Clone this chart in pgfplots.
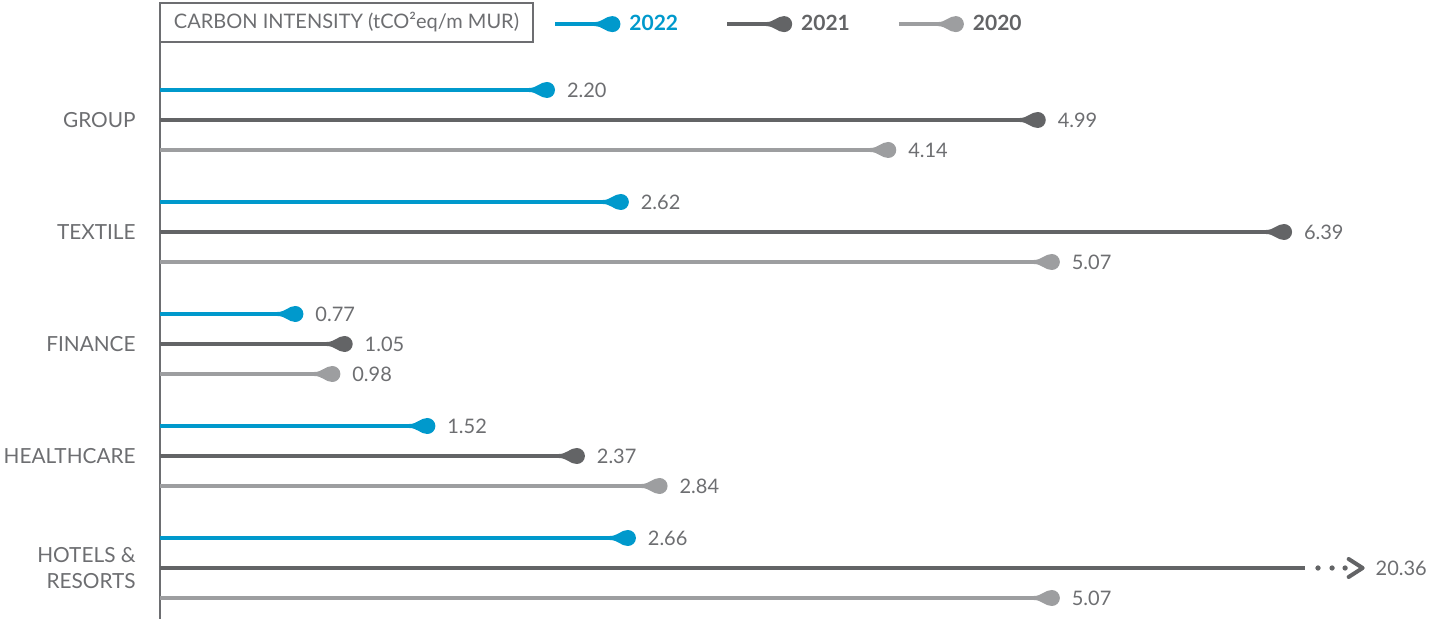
\documentclass[border=0pt]{standalone}
\usepackage{pgfplots}
\pgfplotsset{compat=1.18}
\usepackage{pgfplotstable}
\usepackage{fontspec}
\setmainfont{Lato}
\definecolor{cA}{HTML}{0099CC}
\definecolor{cB}{HTML}{636466}
\definecolor{cC}{HTML}{9D9EA0}
\definecolor{txt}{HTML}{6D6E71}
\pgfdeclareplotmark{drop}{%
  \pgfpathmoveto{\pgfqpoint{-9pt}{1pt}}%
  \pgfpathcurveto{\pgfqpoint{-5pt}{1pt}}{\pgfqpoint{-3.5pt}{4pt}}{\pgfqpoint{0pt}{4pt}}%
  \pgfpatharc{90}{-90}{4pt}%
  \pgfpathcurveto{\pgfqpoint{-3.5pt}{-4pt}}{\pgfqpoint{-5pt}{-1pt}}{\pgfqpoint{-9pt}{-1pt}}%
  \pgfpathclose
  \pgfusepathqfill}
\pgfdeclareplotmark{chev}{%
  \pgfsetlinewidth{2pt}\pgfsetroundcap\pgfsetroundjoin
  \pgfpathmoveto{\pgfqpoint{-3.5pt}{4.5pt}}%
  \pgfpathlineto{\pgfqpoint{3.5pt}{0pt}}%
  \pgfpathlineto{\pgfqpoint{-3.5pt}{-4.5pt}}%
  \pgfusepathqstroke}
% values per series (y = row position)
\pgfplotstableread{
y v
90 2.20
202 2.62
314 0.77
426 1.52
538 2.66
}\dA
\pgfplotstableread{
y v
120 4.99
232 6.39
344 1.05
456 2.37
}\dB
\pgfplotstableread{
y v
150 4.14
262 5.07
374 0.98
486 2.84
598 5.07
}\dC
\begin{document}
\begin{tikzpicture}
\useasboundingbox (0,0) rectangle (716pt,309.5pt);
\begin{axis}[
  at={(80pt,0pt)}, anchor=south west,
  scale only axis, width=636pt, height=288.5pt,
  xmin=0, xmax=7.231, ymin=42, ymax=619, y dir=reverse,
  axis x line=none, axis y line*=left,
  y axis line style={draw=txt, line width=0.6pt},
  ytick={120,232,344,456,568},
  yticklabels={GROUP,TEXTILE,FINANCE,HEALTHCARE,{HOTELS \&\\RESORTS}},
  ytick style={draw=none},
  yticklabel style={font=\fontsize{10.4}{13}\selectfont, text=txt, align=right, inner sep=0pt, xshift=-12pt},
  clip=false,
  /pgf/number format/assume math mode=true,
  /pgf/number format/.cd, fixed, fixed zerofill, precision=2, /pgfplots/.cd,
  nodes near coords style={font=\fontsize{10}{12}\selectfont, text=txt, anchor=west, xshift=9pt, inner sep=0pt},
  legend style={draw=none, fill=none, at={(0.3090,1.031)}, anchor=west, inner sep=0pt,
    legend columns=3, font=\fontsize{10.5}{12}\selectfont\bfseries,
    /tikz/every odd column/.append style={column sep=2.5pt},
    /tikz/every even column/.append style={column sep=21.5pt}},
  legend cell align=left,
  legend image code/.code={\draw[mark repeat=2,mark phase=2,#1] plot coordinates {(0pt,0pt) (28.5pt,0pt)};},
]
\addlegendimage{cA, line width=2pt, mark=drop, mark options={fill=cA, draw=none}}
\addlegendentry{\textcolor{cA}{2022}}
\addlegendimage{cB, line width=2pt, mark=drop, mark options={fill=cB, draw=none}}
\addlegendentry{\textcolor{cB}{2021}}
\addlegendimage{cC, line width=2pt, mark=drop, mark options={fill=cC, draw=none}}
\addlegendentry{\textcolor{cB}{2020}}

\addplot[xcomb, cA, line width=2pt, mark=drop, mark options={fill=cA, draw=none},
  point meta=x, nodes near coords, forget plot] table[x=v, y=y] {\dA};
\addplot[xcomb, cB, line width=2pt, mark=drop, mark options={fill=cB, draw=none},
  point meta=x, nodes near coords, forget plot] table[x=v, y=y] {\dB};
\addplot[xcomb, cC, line width=2pt, mark=drop, mark options={fill=cC, draw=none},
  point meta=x, nodes near coords, forget plot] table[x=v, y=y] {\dC};
% Hotels & Resorts 2021: broken bar (20.36)
\addplot[xcomb, cB, line width=2pt, mark=none, forget plot] coordinates {(6.509,568)};
\addplot[only marks, cB, mark=*, mark size=1.1pt, forget plot] coordinates {(6.583,568) (6.663,568) (6.737,568)};
\addplot[only marks, cB, mark=chev, point meta=explicit symbolic, nodes near coords, forget plot]
  coordinates {(6.797,568) [20.36]};
% title box
\draw[txt, line width=0.6pt] (axis cs:0,42) rectangle (axis cs:2.1205,3);
\node[text=txt, font=\fontsize{10}{12}\selectfont] at (axis cs:1.060,22.5) {CARBON INTENSITY (tCO²eq/m MUR)};
\end{axis}
\end{tikzpicture}
\end{document}
